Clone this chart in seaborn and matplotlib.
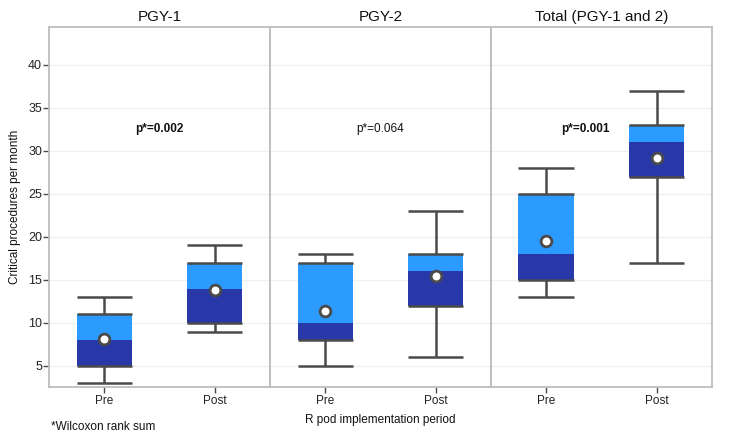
import numpy as np
import pandas as pd
import seaborn as sns
import matplotlib.pyplot as plt

sns.set_style("white")
plt.rcParams['font.family'] = ['Liberation Sans', 'DejaVu Sans']

# data
panels = ["PGY-1", "PGY-2", "Total (PGY-1 and 2)"]
periods = ["Pre", "Post"]
whisker_low = [[3, 9], [5, 6], [13, 17]]
q1 = [[5, 10], [8, 12], [15, 27]]
median = [[8, 14], [10, 16], [18, 31]]
q3 = [[11, 17], [17, 18], [25, 33]]
whisker_high = [[13, 19], [18, 23], [28, 37]]
means = [[8.1, 13.8], [11.4, 15.5], [19.5, 29.2]]
p_labels = ["p*=0.002", "p*=0.064", "p*=0.001"]
p_bold = [True, False, True]
p_xpos = [0.5, 0.5, 0.36]

dark_blue = "#2838a8"
light_blue = "#2b9bff"
line_col = "#4a4a4a"
frame_col = "#bdbdbd"
box_w = 0.5

fig, axes = plt.subplots(1, 3, figsize=(7.5, 4.42), dpi=100, sharey=True)
fig.subplots_adjust(left=0.0653, right=0.949, top=0.939, bottom=0.1244, wspace=0)

for i, ax in enumerate(axes):
    df = pd.DataFrame({
        "period": periods,
        "low": whisker_low[i], "q1": q1[i], "med": median[i],
        "q3": q3[i], "high": whisker_high[i], "mean": means[i],
    })
    pos = np.arange(len(periods))

    # whiskers and caps
    ax.vlines(pos, df["low"], df["q1"], color=line_col, lw=1.8, zorder=1)
    ax.vlines(pos, df["q3"], df["high"], color=line_col, lw=1.8, zorder=1)
    ax.hlines(df["low"], pos - box_w / 2, pos + box_w / 2, color=line_col, lw=1.8, zorder=1)
    ax.hlines(df["high"], pos - box_w / 2, pos + box_w / 2, color=line_col, lw=1.8, zorder=1)

    # two-tone box: q1 -> median dark, median -> q3 light
    sns.barplot(x=df["period"], y=df["med"] - df["q1"], bottom=df["q1"].values,
                order=periods, color=dark_blue, saturation=1, width=box_w,
                errorbar=None, linewidth=0, ax=ax, zorder=2)
    sns.barplot(x=df["period"], y=df["q3"] - df["med"], bottom=df["med"].values,
                order=periods, color=light_blue, saturation=1, width=box_w,
                errorbar=None, linewidth=0, ax=ax, zorder=2)
    ax.hlines(df["q1"], pos - box_w / 2, pos + box_w / 2, color=line_col, lw=1.8, zorder=3)
    ax.hlines(df["q3"], pos - box_w / 2, pos + box_w / 2, color=line_col, lw=1.8, zorder=3)

    # means
    sns.scatterplot(x=pos, y=df["mean"], ax=ax, s=60, color="white",
                    edgecolor=line_col, linewidth=2, zorder=4)

    ax.text(p_xpos[i], 32.5, p_labels[i], ha="center", va="center", fontsize=8.5,
            fontweight="bold" if p_bold[i] else "normal", color="#111111")

    ax.set_xlim(-0.5, 1.5)
    ax.set_ylim(2.55, 44.4)
    ax.set_xticks(pos)
    ax.set_xticklabels(periods, fontsize=8.5, color="#222222")
    ax.set_xlabel("")
    ax.set_ylabel("")
    ax.set_title(panels[i], fontsize=11, pad=4, color="#111111")
    ax.set_yticks(range(5, 45, 5))
    ax.yaxis.grid(True, color="#f0f0f0", lw=1)
    ax.set_axisbelow(True)
    for sp in ax.spines.values():
        sp.set_visible(True)
        sp.set_color(frame_col)
        sp.set_linewidth(1.3)
    ax.tick_params(axis="x", bottom=True, length=4, width=1, color=line_col, pad=2)
    ax.tick_params(axis="y", left=(i == 0), length=4, width=1, color=line_col,
                   labelsize=9, labelcolor="#222222", pad=1)

axes[0].set_ylabel("Critical procedures per month", fontsize=8.5, color="#111111", labelpad=5)
axes[1].set_xlabel("R pod implementation period", fontsize=8.5, color="#111111", labelpad=5)
fig.text(0.068, 0.028, "*Wilcoxon rank sum", fontsize=8.5, color="#111111")

fig.savefig("out.png", dpi=100)
